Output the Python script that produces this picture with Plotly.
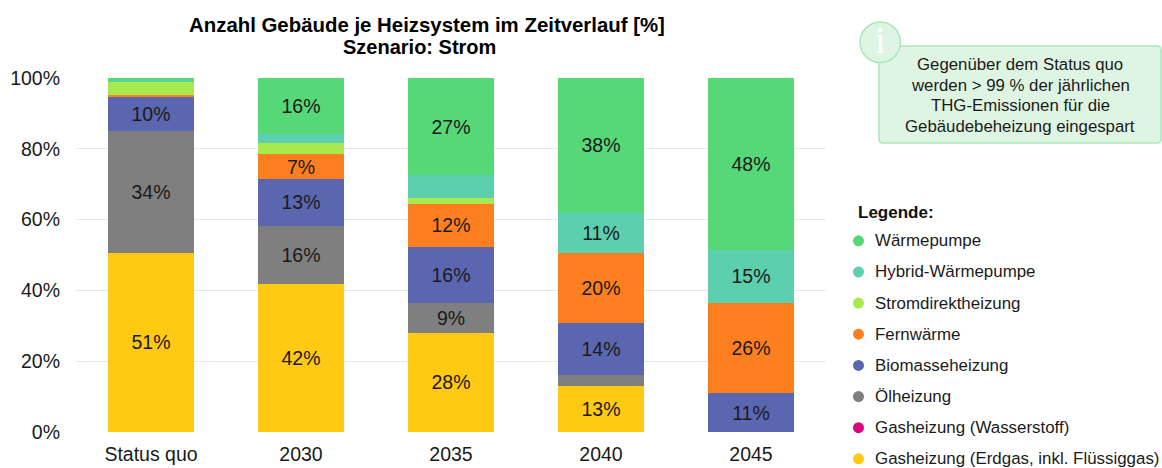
import plotly.graph_objects as go

W, H = 1162, 468
L, R, T, B = 76, 826, 78, 432.5

categories = ["Status quo", "2030", "2035", "2040", "2045"]
series_names = ["Gasheizung (Erdgas, inkl. Flüssiggas)", "Gasheizung (Wasserstoff)", "Ölheizung",
                "Biomasseheizung", "Fernwärme", "Stromdirektheizung", "Hybrid-Wärmepumpe", "Wärmepumpe"]
gas_erdgas = [50.6, 41.9, 28.0, 13.1, 0.0]
gas_h2 = [0.0, 0.0, 0.0, 0.0, 0.0]
oel = [34.4, 16.3, 8.5, 3.1, 0.0]
biomasse = [9.6, 13.3, 15.8, 14.7, 10.9]
fernwaerme = [0.6, 7.0, 12.2, 19.7, 25.6]
strom = [3.9, 3.1, 1.6, 0.0, 0.0]
hybrid = [0.1, 2.6, 6.5, 11.3, 15.0]
waermepumpe = [0.8, 15.8, 27.4, 38.1, 48.5]
label_oel = ["34%", "16%", "9%", "", ""]
label_gas = ["51%", "42%", "28%", "13%", ""]
label_bio = ["10%", "13%", "16%", "14%", "11%"]
label_fw = ["", "7%", "12%", "20%", "26%"]
label_hyb = ["", "", "", "11%", "15%"]
label_wp = ["", "16%", "27%", "38%", "48%"]
label_none = ["", "", "", "", ""]
colors = ["#FFC914", "#D6077F", "#7F7F7F", "#5A66B0", "#FD7F20", "#A8E94F", "#5BCFAE", "#56D879"]
y_ticks = [0, 20, 40, 60, 80, 100]
y_labels = ["0%", "20%", "40%", "60%", "80%", "100%"]
info_lines = ["Gegenüber dem Status quo", "werden > 99 % der jährlichen", "THG-Emissionen für die",
              "Gebäudebeheizung eingespart"]

FONT = "Liberation Sans, Arial, sans-serif"
INK = "#1a1a1a"
px = lambda x: (x - L) / (R - L)
py = lambda y: (B - y) / (B - T)

fig = go.Figure()
values = [gas_erdgas, gas_h2, oel, biomasse, fernwaerme, strom, hybrid, waermepumpe]
labels = [label_gas, label_none, label_oel, label_bio, label_fw, label_none, label_hyb, label_wp]
for name, v, t, c in zip(series_names, values, labels, colors):
    fig.add_bar(x=categories, y=v, name=name, text=t, marker=dict(color=c, line=dict(width=0)),
                textposition="inside", insidetextanchor="middle", textangle=0, cliponaxis=False,
                constraintext="none",
                insidetextfont=dict(family=FONT, size=19.5, color=INK), showlegend=False)

shapes, ann = [], []
def note(x, y, text, size, color=INK, family=FONT, xanchor="center"):
    ann.append(dict(xref="paper", yref="paper", x=px(x), y=py(y), text=text, showarrow=False,
                    xanchor=xanchor, yanchor="middle", font=dict(family=family, size=size, color=color)))

# title
note(426.5, 25, "<b>Anzahl Gebäude je Heizsystem im Zeitverlauf [%]</b>", 20.4, "#000000")
note(419.5, 47, "<b>Szenario: Strom</b>", 20, "#000000")
# info box
x0, x1, y0, y1, r = px(879), px(1161), py(46), py(143), 4
rx, ry = r / (R - L), r / (B - T)
shapes.append(dict(type="path", xref="paper", yref="paper",
    path=f"M {x0+rx} {y0} L {x1-rx} {y0} Q {x1} {y0} {x1} {y0-ry} L {x1} {y1+ry} Q {x1} {y1} {x1-rx} {y1} "
         f"L {x0+rx} {y1} Q {x0} {y1} {x0} {y1+ry} L {x0} {y0-ry} Q {x0} {y0} {x0+rx} {y0} Z",
    fillcolor="#DFF5E3", line=dict(color="#A9E8BD", width=1.5)))
shapes.append(dict(type="circle", xref="paper", yref="paper", x0=px(860), x1=px(900.5), y0=py(62.5), y1=py(22),
                   fillcolor="#DFF5E3", line=dict(color="#A9E8BD", width=1.5)))
note(880, 40, "i", 38, "white", "Liberation Serif, serif")
for i, line in enumerate(info_lines):
    note(1020, 64.5 + i * 20.6, line, 16.8)
# legend
note(856, 213, "<b>Legende:</b>", 17, "#111111", xanchor="left")
for i, idx in enumerate([7, 6, 5, 4, 3, 2, 1, 0]):
    yc = 241 + i * 31.2
    shapes.append(dict(type="circle", xref="paper", yref="paper", x0=px(853), x1=px(864), y0=py(yc + 5.5), y1=py(yc - 5.5),
                       fillcolor=colors[idx], line=dict(width=0)))
    note(873, yc, series_names[idx], 16.9, xanchor="left")

fig.update_layout(
    width=W, height=H, autosize=False, paper_bgcolor="white", plot_bgcolor="white",
    margin=dict(l=L, r=W - R, t=T, b=H - B, pad=0), barmode="stack", bargap=0.427,
    font=dict(family=FONT, size=19.5, color=INK),
    xaxis=dict(type="category", categoryorder="array", categoryarray=categories, showgrid=False, showline=False,
               ticks="", ticklabelstandoff=8, tickfont=dict(family=FONT, size=19.5, color=INK), automargin=False),
    yaxis=dict(range=[0, 100], tickvals=y_ticks, ticktext=y_labels, showgrid=True, gridcolor="#E6E6E6",
               gridwidth=1, zeroline=False, ticks="", ticklabelstandoff=15,
               tickfont=dict(family=FONT, size=19.5, color=INK), automargin=False),
    shapes=shapes, annotations=ann, uniformtext=dict(mode=False),
)
fig.write_html("out.html", config={"displayModeBar": False},
               post_script="document.body.style.margin='0';document.documentElement.style.overflow='hidden';")
